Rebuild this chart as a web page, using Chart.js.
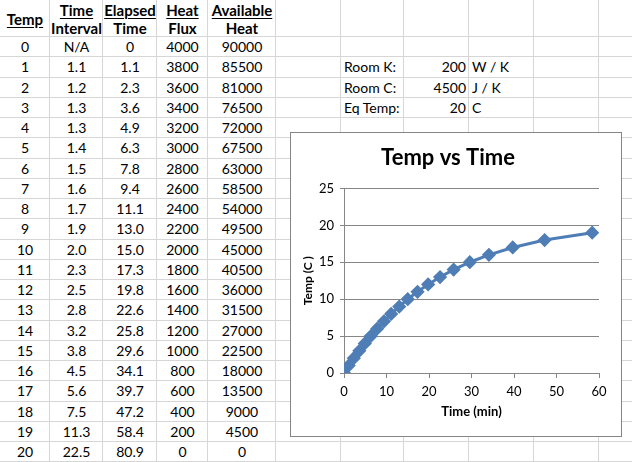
<!DOCTYPE html>
<html>
<head>
<meta charset="utf-8">
<script src="https://cdn.jsdelivr.net/npm/chart.js@4"></script>
<style>
  body { margin: 0; background: #fff; width: 632px; height: 462px; overflow: hidden; position: relative;
         font-family: Lato, "Open Sans", sans-serif; font-size: 14px; color: #000; }
  .cell { position: absolute; box-sizing: border-box; border-right: 1px solid #d6d6d6; border-bottom: 1px solid #d6d6d6;
          white-space: nowrap; overflow: hidden; }
  .txt { position: absolute; white-space: nowrap; }
  .hd { font-weight: bold; font-size: 15px; }
  .ul { text-decoration: underline; text-underline-offset: 2px; }
  #chartBox { position: absolute; left: 290px; top: 132px; width: 332px; height: 305px; box-sizing: border-box;
              border: 1px solid #868686; background: #fff; }
</style>
</head>
<body>
<div id="sheet"></div>
<div id="chartBox"><canvas id="tempChart"></canvas></div>
<script>
// Table data
const temps = [0, 1, 2, 3, 4, 5, 6, 7, 8, 9, 10, 11, 12, 13, 14, 15, 16, 17, 18, 19, 20];
const intervals = ['N/A', '1.1', '1.2', '1.3', '1.3', '1.4', '1.5', '1.6', '1.7', '1.9', '2.0', '2.3', '2.5', '2.8', '3.2', '3.8', '4.5', '5.6', '7.5', '11.3', '22.5'];
const elapsed = [0, 1.1, 2.3, 3.6, 4.9, 6.3, 7.8, 9.4, 11.1, 13.0, 15.0, 17.3, 19.8, 22.6, 25.8, 29.6, 34.1, 39.7, 47.2, 58.4, 80.9];
const flux = [4000, 3800, 3600, 3400, 3200, 3000, 2800, 2600, 2400, 2200, 2000, 1800, 1600, 1400, 1200, 1000, 800, 600, 400, 200, 0];
const heat = [90000, 85500, 81000, 76500, 72000, 67500, 63000, 58500, 54000, 49500, 45000, 40500, 36000, 31500, 27000, 22500, 18000, 13500, 9000, 4500, 0];

// Header labels (top line underlined)
const headTop = ['Temp', 'Time', 'Elapsed', 'Heat', 'Available'];
const headBottom = ['', 'Interval', 'Time', 'Flux', 'Heat'];

// Room constants
const paramNames = ['Room K:', 'Room C:', 'Eq Temp:'];
const paramValues = [200, 4500, 20];
const paramUnits = ['W / K', 'J / K', 'C'];

// Chart points: rows 0..19 (the last row is off the 0-60 axis)
const chartTimes = elapsed.slice(0, 20);
const chartTemps = temps.slice(0, 20);
const xTicks = [0, 10, 20, 30, 40, 50, 60];

// ---- spreadsheet grid ----
const colEdges = [0, 50, 103, 157, 208, 276, 341, 404, 469, 534, 599, 664];
const headerH = 37;
const rowH = 20.25;
const sheet = document.getElementById('sheet');

function addCell(c, top, h) {
    const d = document.createElement('div');
    d.className = 'cell';
    d.style.left = colEdges[c] + 'px';
    d.style.top = top + 'px';
    d.style.width = (colEdges[c + 1] - colEdges[c]) + 'px';
    d.style.height = h + 'px';
    sheet.appendChild(d);
}

function addText(text, left, width, centerY, align, cls) {
    const t = document.createElement('div');
    t.className = 'txt ' + (cls || '');
    t.textContent = text;
    t.style.left = left + 'px';
    t.style.width = width + 'px';
    t.style.top = (centerY - 9) + 'px';
    t.style.lineHeight = '18px';
    t.style.textAlign = align;
    sheet.appendChild(t);
}

for (let c = 0; c < colEdges.length - 1; c++) {
    addCell(c, 0, headerH);
    for (let r = 0; r < temps.length; r++) {
        addCell(c, headerH + r * rowH, rowH);
    }
}

// header text
for (let c = 0; c < 5; c++) {
    const l = colEdges[c], w = colEdges[c + 1] - colEdges[c];
    if (headBottom[c] === '') {
        addText(headTop[c], l, w, 19, 'center', 'hd ul');
    } else {
        addText(headTop[c], l, w, 10, 'center', 'hd ul');
        addText(headBottom[c], l, w, 28, 'center', 'hd');
    }
}

// body text
const columns = [temps, intervals, elapsed.map(v => v === 0 ? '0' : v.toFixed(1)), flux, heat];
for (let r = 0; r < temps.length; r++) {
    const cy = headerH + r * rowH + rowH / 2;
    for (let c = 0; c < 5; c++) {
        addText(String(columns[c][r]), colEdges[c], colEdges[c + 1] - colEdges[c], cy, 'center');
    }
}

// room constants in rows 1..3
for (let i = 0; i < paramNames.length; i++) {
    const cy = headerH + (i + 1) * rowH + rowH / 2;
    addText(paramNames[i], colEdges[6] + 3, 60, cy, 'left');
    addText(String(paramValues[i]), colEdges[7], colEdges[8] - colEdges[7] - 3, cy, 'right');
    addText(paramUnits[i], colEdges[8] + 3, 60, cy, 'left');
}

// ---- chart ----
const points = chartTimes.map((t, i) => ({ x: t, y: chartTemps[i] }));
const axisGrey = '#868686';
const lineBlue = '#4F7DB5';

new Chart(document.getElementById('tempChart').getContext('2d'), {
    type: 'scatter',
    data: {
        datasets: [{
            label: 'Temp',
            data: points,
            showLine: true,
            borderColor: lineBlue,
            borderWidth: 3,
            pointStyle: 'rectRot',
            pointRadius: 5,
            pointBackgroundColor: lineBlue,
            pointBorderColor: lineBlue,
            tension: 0
        }]
    },
    options: {
        responsive: true,
        maintainAspectRatio: false,
        animation: false,
        layout: { padding: { left: 6, right: 22, top: 0, bottom: 12 } },
        plugins: {
            legend: { display: false },
            tooltip: { enabled: false },
            title: {
                display: true,
                text: 'Temp vs Time',
                color: '#000',
                font: { family: 'Lato', size: 22, weight: 'bold' },
                padding: { top: 12, bottom: 17 }
            }
        },
        scales: {
            x: {
                type: 'linear',
                min: 0,
                max: 60,
                afterBuildTicks: (scale) => { scale.ticks = xTicks.map(v => ({ value: v })); },
                afterFit: (scale) => { scale.height = 51; },
                grid: { drawOnChartArea: false, drawTicks: true, tickLength: 5, color: axisGrey },
                border: { color: axisGrey, width: 1 },
                ticks: { color: '#000', font: { family: 'Lato', size: 13 }, padding: 6, maxRotation: 0 },
                title: { display: true, text: 'Time (min)', color: '#000', font: { family: 'Lato', size: 13, weight: 'bold' }, padding: { top: 2 } }
            },
            y: {
                min: 0,
                max: 25,
                ticks: { stepSize: 5, color: '#000', font: { family: 'Lato', size: 13 }, padding: 6 },
                afterFit: (scale) => { scale.width = 47; },
                grid: { color: axisGrey, tickLength: 4 },
                border: { color: axisGrey, width: 1 },
                title: { display: true, text: 'Temp (C )', color: '#000', font: { family: 'Lato', size: 12, weight: 'bold' }, padding: { bottom: 2 } }
            }
        }
    }
});
</script>
</body>
</html>
